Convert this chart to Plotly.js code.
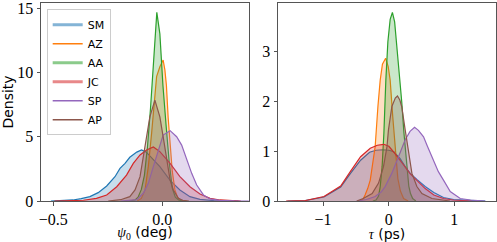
<!DOCTYPE html>
<html><head><meta charset="utf-8">
<script src="https://cdn.plot.ly/plotly-3.0.1.min.js"></script>
<style>html,body{margin:0;padding:0;background:#fff}</style></head>
<body><div id="chart" style="width:497px;height:242px"></div>
<script>
const names = ['SM','AZ','AA','JC','SP','AP'];
const colors = ['#1f77b4','#ff7f0e','#2ca02c','#d62728','#9467bd','#8c564b'];
const legendThick = [true,false,true,true,false,false];

// Left panel: psi_0 (deg) density curves
const psiSMx = [-0.511,-0.457,-0.41,-0.372,-0.332,-0.294,-0.255,-0.217,-0.194,-0.171,-0.149,-0.117,-0.095,-0.073,-0.057,-0.026,-0.011,0.036,0.081,0.127,0.173,0.236,0.35];
const psiSMy = [0,0.02,0.08,0.18,0.34,0.65,1.17,1.89,2.54,2.93,3.4,3.8,3.97,3.8,3.5,2.9,2.67,1.6,0.86,0.34,0.13,0.03,0];
const psiAZx = [-0.115,-0.096,-0.079,-0.064,-0.049,-0.034,-0.026,-0.011,0.004,0.012,0.019,0.027,0.037,0.046,0.058,0.07,0.084,0.113];
const psiAZy = [0,0.2,0.86,2.67,5.26,7.85,9.67,10.44,10.96,10.2,9.0,6.5,4.0,2.3,0.86,0.3,0.05,0];
const psiAAx = [-0.153,-0.125,-0.111,-0.096,-0.082,-0.068,-0.054,-0.039,-0.025,-0.011,0.003,0.018,0.032,0.046,0.06,0.075,0.094];
const psiAAy = [0,0.08,0.3,0.9,2.0,4.2,7.2,11.4,14.67,13.0,9.0,5.8,3.0,1.0,0.3,0.08,0];
const psiJCx = [-0.495,-0.429,-0.362,-0.302,-0.255,-0.209,-0.164,-0.133,-0.102,-0.072,-0.041,-0.011,0.036,0.081,0.127,0.173,0.219,0.265,0.312,0.36];
const psiJCy = [0,0.02,0.06,0.21,0.47,1.11,2.02,2.93,3.58,3.97,4.2,3.84,2.93,1.89,1.11,0.54,0.21,0.08,0.02,0];
const psiSPx = [-0.191,-0.144,-0.117,-0.087,-0.064,-0.041,-0.019,0.004,0.036,0.066,0.089,0.112,0.135,0.158,0.189,0.219,0.265,0.331,0.397];
const psiSPy = [0,0.03,0.1,0.6,1.37,2.67,3.97,5.13,5.47,5.0,4.35,3.19,2.15,1.24,0.47,0.16,0.05,0.01,0];
const psiAPx = [-0.248,-0.191,-0.149,-0.125,-0.102,-0.087,-0.072,-0.057,-0.034,-0.011,0.004,0.02,0.036,0.051,0.074,0.094,0.122];
const psiAPy = [0,0.1,0.34,0.86,1.89,3.44,5.0,6.55,7.85,6.55,5.0,3.19,1.63,0.86,0.21,0.05,0];

// Right panel: tau (ps) density curves
const tauSMx = [-1.545,-1.271,-0.987,-0.732,-0.585,-0.428,-0.291,-0.193,-0.095,0.003,0.079,0.175,0.252,0.326,0.434,0.557,0.689,0.836,0.993,1.228,1.473];
const tauSMy = [0,0.01,0.08,0.28,0.55,0.82,0.98,1.02,1.03,1.02,0.99,0.85,0.69,0.56,0.43,0.29,0.17,0.07,0.03,0.01,0];
const tauAZx = [-0.438,-0.389,-0.36,-0.32,-0.281,-0.242,-0.206,-0.164,-0.129,-0.095,-0.046,-0.007,0.023,0.062,0.101,0.14,0.179,0.228,0.297];
const tauAZy = [0,0.04,0.12,0.25,0.42,0.75,1.09,1.9,2.43,2.75,2.87,2.7,2.43,1.7,1.0,0.45,0.2,0.05,0];
const tauAAx = [-0.242,-0.193,-0.154,-0.129,-0.1,-0.073,-0.043,-0.012,0.023,0.057,0.091,0.13,0.165,0.199,0.231,0.258,0.282,0.307,0.333,0.366,0.415];
const tauAAy = [0,0.02,0.1,0.29,0.69,1.36,2.43,3.2,3.65,3.79,3.6,3.04,2.6,2.0,1.4,0.95,0.6,0.3,0.15,0.05,0];
const tauJCx = [-1.565,-1.271,-0.987,-0.732,-0.585,-0.428,-0.281,-0.173,-0.075,0.003,0.079,0.175,0.231,0.326,0.434,0.557,0.689,0.836,0.983,1.277];
const tauJCy = [0,0.01,0.09,0.3,0.59,0.89,1.06,1.12,1.14,1.1,0.98,0.83,0.72,0.55,0.4,0.25,0.12,0.05,0.02,0];
const tauSPx = [-0.487,-0.34,-0.206,-0.115,-0.054,0.049,0.15,0.252,0.326,0.395,0.454,0.532,0.591,0.66,0.758,0.836,0.939,1.091,1.248,1.473];
const tauSPy = [0,0.03,0.09,0.18,0.29,0.56,0.89,1.23,1.4,1.48,1.42,1.29,1.1,0.89,0.59,0.42,0.19,0.05,0.02,0];
const tauAPx = [-0.487,-0.389,-0.252,-0.154,-0.079,-0.026,-0.003,0.049,0.101,0.134,0.17,0.199,0.252,0.303,0.354,0.43,0.507,0.66,0.787,0.934];
const tauAPy = [0,0.05,0.15,0.36,0.69,1.09,1.43,1.9,2.07,2.11,2.03,1.9,1.43,0.96,0.56,0.29,0.15,0.05,0.02,0];

const psiX = [psiSMx,psiAZx,psiAAx,psiJCx,psiSPx,psiAPx];
const psiY = [psiSMy,psiAZy,psiAAy,psiJCy,psiSPy,psiAPy];
const tauX = [tauSMx,tauAZx,tauAAx,tauJCx,tauSPx,tauAPx];
const tauY = [tauSMy,tauAZy,tauAAy,tauJCy,tauSPy,tauAPy];

function rgba(hex,a){const n=parseInt(hex.slice(1),16);return `rgba(${n>>16},${(n>>8)&255},${n&255},${a})`;}

const traces = [];
for (let i=0;i<names.length;i++){
  traces.push({x:psiX[i],y:psiY[i],xaxis:'x',yaxis:'y',type:'scatter',mode:'lines',fill:'tozeroy',
    fillcolor:rgba(colors[i],0.25),line:{color:colors[i],width:1.2},showlegend:false,hoverinfo:'skip'});
}
for (let i=0;i<names.length;i++){
  traces.push({x:tauX[i],y:tauY[i],xaxis:'x2',yaxis:'y2',type:'scatter',mode:'lines',fill:'tozeroy',
    fillcolor:rgba(colors[i],0.25),line:{color:colors[i],width:1.2},showlegend:false,hoverinfo:'skip'});
}
for (let i=0;i<names.length;i++){
  traces.push({x:[null],y:[null],xaxis:'x',yaxis:'y',type:'scatter',mode:'lines',name:names[i],
    line:{color:legendThick[i]?rgba(colors[i],0.55):colors[i],width:legendThick[i]?3:1.5},showlegend:true});
}

const SERIF = '"Liberation Serif", "DejaVu Serif", serif';
const SANS = '"DejaVu Sans", sans-serif';
function tf(){return {family:SERIF,size:16,color:'#000000'};}
function base(){return {showline:true,linecolor:'#555',linewidth:1,mirror:true,ticks:'outside',ticklen:3.5,tickwidth:1,
  tickcolor:'#555',showgrid:false,zeroline:false,tickfont:tf(),ticklabeloverflow:'allow'};}

const layout = {
  width:497,height:242,
  font:{family:SANS,size:14,color:'#000000'},
  margin:{l:41,r:1,t:3,b:41},
  paper_bgcolor:'#ffffff',plot_bgcolor:'#ffffff',
  showlegend:true,
  legend:{x:0.0125,y:0.968,xanchor:'left',yanchor:'top',bordercolor:'#cccccc',borderwidth:1,
    bgcolor:'rgba(255,255,255,0.8)',font:{family:SANS,size:11,color:'#000000'},tracegroupgap:0},
  xaxis:Object.assign(base(),{domain:[0,0.457],range:[-0.5565,0.3977],tickvals:[-0.5,0.0],ticktext:['\u22120.5','0.0'],
    title:{text:'<span style="font-family:\'Liberation Serif\',serif"><i>\u03c8</i><sub>0</sub></span> (deg)',font:{family:SANS,size:14,color:'#000000'},standoff:4}}),
  yaxis:Object.assign(base(),{domain:[0,1],range:[0,15.4],tickvals:[0,5,10,15],ticktext:['0','5','10','15'],
    title:{text:'Density',font:{family:SANS,size:14,color:'#000000'},standoff:4}}),
  xaxis2:Object.assign(base(),{domain:[0.521,1],range:[-1.687,1.637],anchor:'y2',tickvals:[-1,0,1],ticktext:['\u22121','0','1'],
    title:{text:'<span style="font-family:\'Liberation Serif\',serif"><i>\u03c4</i></span> (ps)',font:{family:SANS,size:14,color:'#000000'},standoff:4}}),
  yaxis2:Object.assign(base(),{domain:[0,1],range:[0,3.98],anchor:'x2',tickvals:[0,1,2,3],ticktext:['0','1','2','3']})
};

Plotly.newPlot('chart',traces,layout,{staticPlot:true,displayModeBar:false});
</script></body></html>
